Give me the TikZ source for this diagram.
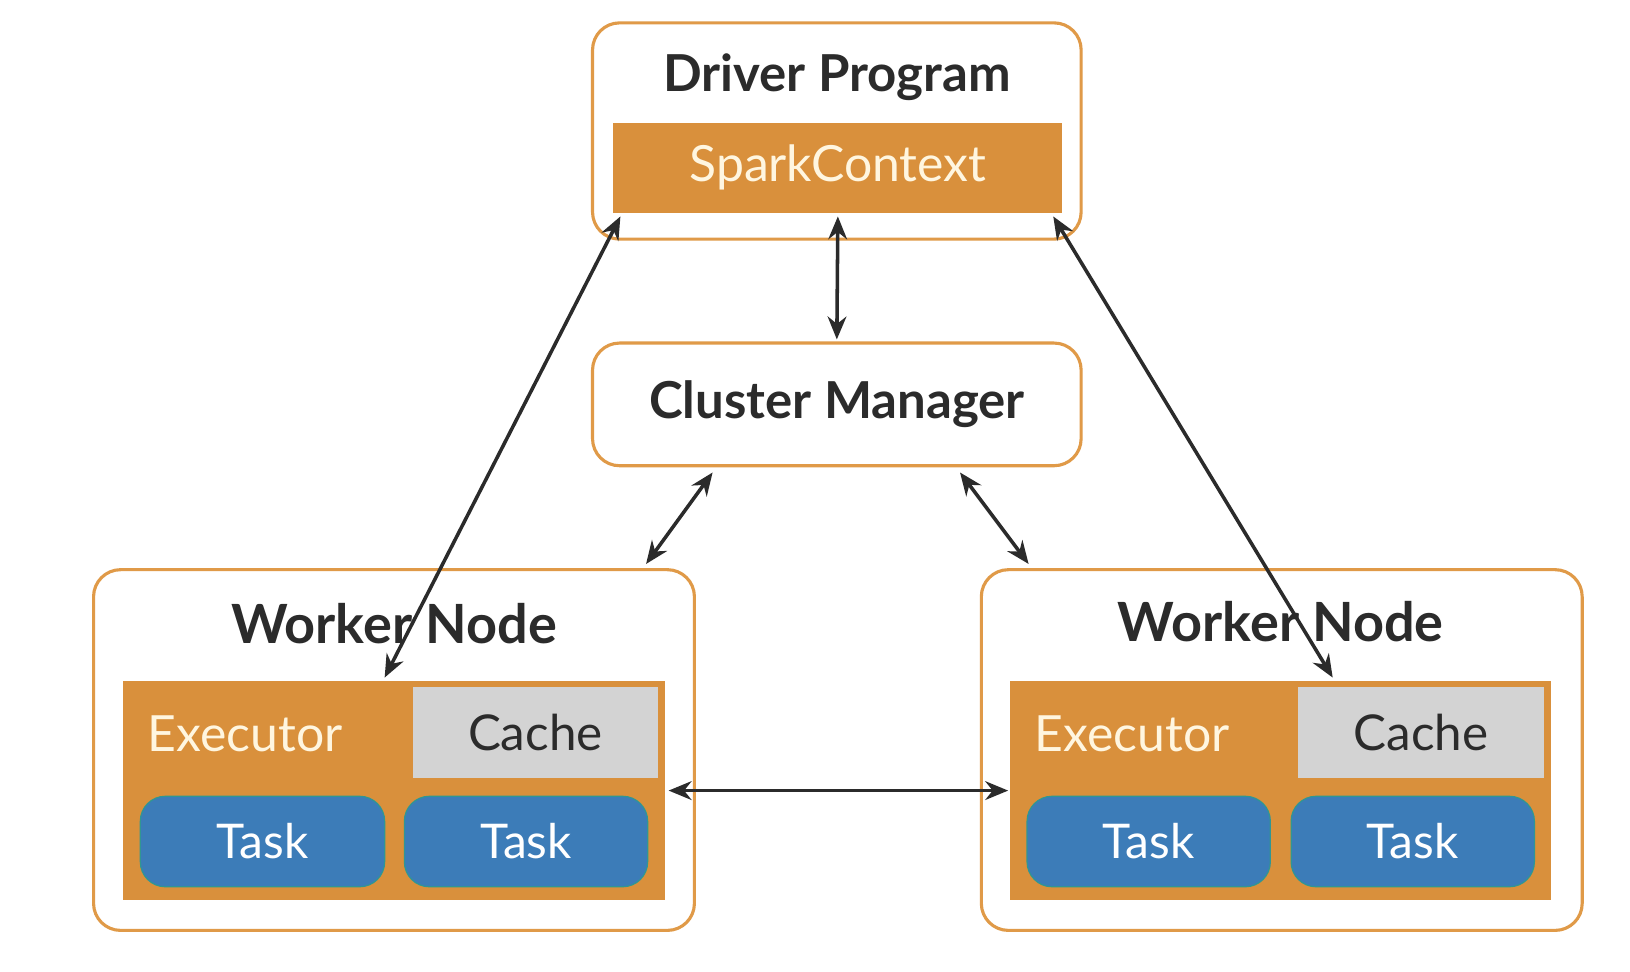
\documentclass[tikz,border=0pt]{standalone}
\usepackage{fontspec}
\setmainfont{Lato}
\usetikzlibrary{calc,arrows.meta}
\definecolor{sorange}{HTML}{D9903C}
\definecolor{sborder}{HTML}{E09A48}
\definecolor{scache}{HTML}{D3D3D3}
\definecolor{stask}{HTML}{3C7CB8}
\definecolor{stext}{HTML}{2B2B2B}
\definecolor{scream}{HTML}{FFF6E0}
\tikzset{
  outerbox/.style={draw=sborder, line width=3pt, rounded corners=26pt, fill=white},
  orangebar/.style={fill=sorange, draw=none},
  cachebox/.style={fill=scache, draw=none, text=stext, font=\fontsize{47.5}{52}\selectfont},
  taskbox/.style={fill=stask, draw=stask!80!green, line width=1.2pt, rounded corners=24pt, text=white, font=\fontsize{46}{52}\selectfont},
  boldlabel/.style={text=stext, font=\bfseries\fontsize{49}{54}\selectfont},
  workerlabel/.style={text=stext, font=\bfseries\fontsize{52}{56}\selectfont},
  creamlabel/.style={text=scream, font=\fontsize{48}{52}\selectfont},
  conn/.style={draw=stext, line width=3.4pt, {Stealth[length=22pt,width=18pt]}-{Stealth[length=22pt,width=18pt]}}
}
\begin{document}
\begin{tikzpicture}[x=1pt,y=-1pt]
\useasboundingbox[fill=white] (0,0) rectangle (1568,935);
% driver
\node[outerbox, minimum width=470pt, minimum height=208pt] (driver) at (805,126) {};
\node[boldlabel] (drivert) at (805,74) {Driver Program};
\node[orangebar, minimum width=432pt, minimum height=87pt, creamlabel] (spark) at (806,161.5) {SparkContext};
% cluster manager
\node[outerbox, minimum width=470pt, minimum height=118pt, boldlabel] (cm) at (805,389) {Cluster Manager};
% left worker
\node[outerbox, minimum width=578pt, minimum height=347pt] (wL) at (379,721.5) {};
\node[workerlabel] (wLt) at (379,600) {Worker Node};
\node[orangebar, minimum width=522pt, minimum height=211pt] (exL) at (379,760.5) {};
\node[creamlabel, anchor=west, inner sep=0pt] (exLt) at (142,706) {Executor};
\node[cachebox, minimum width=236pt, minimum height=87pt] (cacheL) at (515,704.5) {Cache};
\node[taskbox, minimum width=235pt, minimum height=87pt] (taskL1) at (252.5,809.5) {Task};
\node[taskbox, minimum width=234pt, minimum height=87pt] (taskL2) at (506,809.5) {Task};
% right worker
\node[outerbox, minimum width=578pt, minimum height=347pt] (wR) at (1233,721.5) {};
\node[workerlabel] (wRt) at (1232,598) {Worker Node};
\node[orangebar, minimum width=520pt, minimum height=211pt] (exR) at (1232,760.5) {};
\node[creamlabel, anchor=west, inner sep=0pt] (exRt) at (995,706) {Executor};
\node[cachebox, minimum width=236pt, minimum height=87pt] (cacheR) at (1367,704.5) {Cache};
\node[taskbox, minimum width=234pt, minimum height=87pt] (taskR1) at (1105,809.5) {Task};
\node[taskbox, minimum width=234pt, minimum height=87pt] (taskR2) at (1359,809.5) {Task};
% connectors
\draw[conn] ($(spark.south west)+(7,3)$) -- ($(exL.north)+(-9,-3)$);
\draw[conn] ($(spark.south)+(0,3)$) -- ($(cm.north)+(0,-2)$);
\draw[conn] ($(spark.south east)+(-9,3)$) -- ($(exR.north)+(50,-3)$);
\draw[conn] ($(cm.south west)+(117,5)$) -- ($(wL.north east)+(-48,-4)$);
\draw[conn] ($(cm.south east)+(-118,5)$) -- ($(wR.north west)+(47,-4)$);
\draw[conn] ($(exL.east)+(3,0)$) -- ($(exR.west)+(-2,0)$);
\end{tikzpicture}
\end{document}
